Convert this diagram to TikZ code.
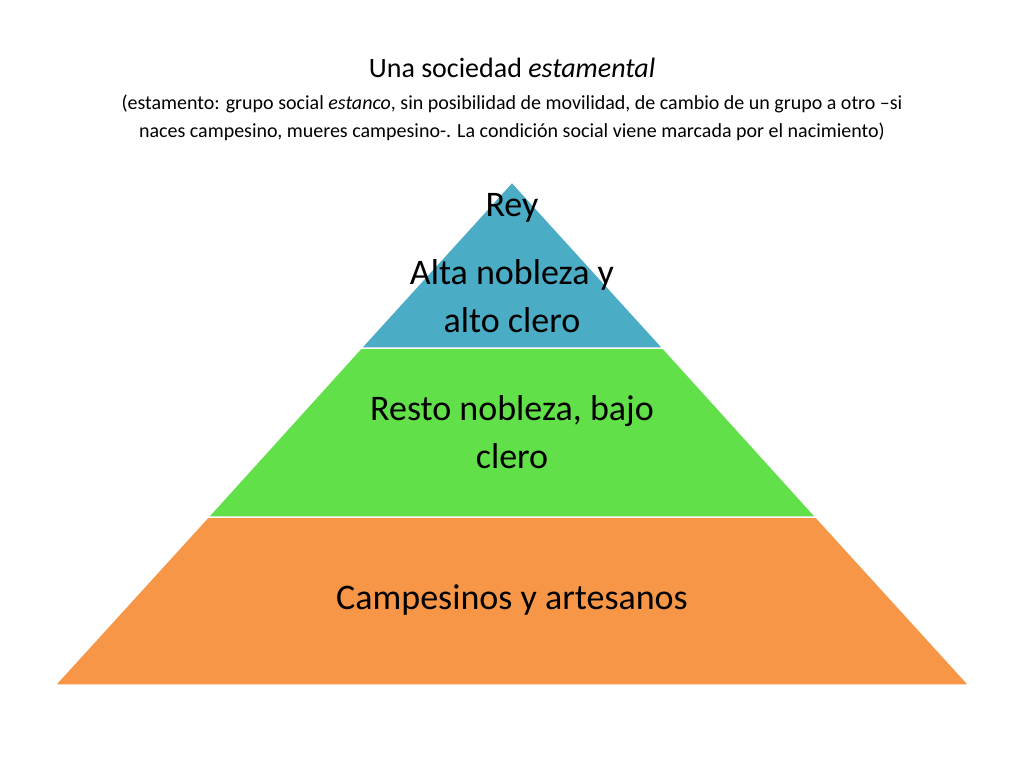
\documentclass[tikz,border=0pt]{standalone}
\usepackage{fontspec}
\setmainfont{Carlito}
\definecolor{cblue}{HTML}{4BACC6}
\definecolor{cgreen}{HTML}{62E04A}
\definecolor{corange}{HTML}{F79646}
\begin{document}
\begin{tikzpicture}[x=1pt,y=-1pt,
  layer/.style={draw=white,line width=1.5pt},
  big/.style={font=\fontsize{36}{48}\selectfont,align=center,text=black}]
\useasboundingbox (0,0) rectangle (1024,768);
\fill[white] (0,0) rectangle (1024,768);
\coordinate (apex) at (512,182);
\coordinate (l1) at (361,348); \coordinate (r1) at (663,348);
\coordinate (l2) at (208,517); \coordinate (r2) at (816,517);
\coordinate (l3) at (55,685); \coordinate (r3) at (969,685);
\filldraw[layer,fill=corange] (l2) -- (r2) -- (r3) -- (l3) -- cycle;
\filldraw[layer,fill=cgreen] (l1) -- (r1) -- (r2) -- (l2) -- cycle;
\filldraw[layer,fill=cblue] (apex) -- (r1) -- (l1) -- cycle;
\node[font=\fontsize{28}{34}\selectfont] (title) at (512,68) {Una sociedad \textit{estamental}};
\node[font=\fontsize{20}{28}\selectfont,align=center] (sub) at (512,118) {(estamento: grupo social \textit{estanco}, sin posibilidad de movilidad, de cambio de un grupo a otro –si\\naces campesino, mueres campesino-. La condición social viene marcada por el nacimiento)};
\node[big] (rey) at (512,208) {Rey};
\node[big] (alta) at (512,296) {Alta nobleza y\\alto clero};
\node[big] (resto) at (512,432) {Resto nobleza, bajo\\clero};
\node[big] (camp) at (512,600) {Campesinos y artesanos};
\end{tikzpicture}
\end{document}
